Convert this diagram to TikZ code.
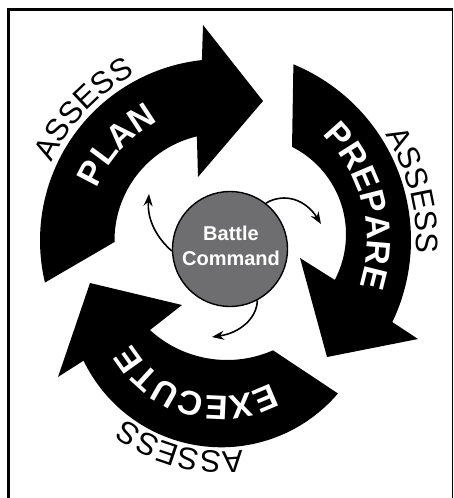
\documentclass[tikz,border=0pt]{standalone}
\usepackage{fontspec}
\setmainfont{Liberation Sans}
\usetikzlibrary{calc,arrows.meta,decorations.text}
\definecolor{circlegray}{RGB}{110,110,112}
\newcommand\bandfont{\fontsize{34}{34}\selectfont\bfseries}
\newcommand\assessfont{\fontsize{31}{31}\selectfont}
\tikzset{
  bandarrow/.style={fill=black},
  smallarrow/.style={line width=1.6pt,-{Stealth[length=12pt,width=9pt]}},
  bandtext/.style={decorate,decoration={text along path,text align=center,text color=white,text={|\bandfont|#1}}},
  assesstext/.style={decorate,decoration={text along path,text align=center,text color=black,text={|\assessfont|#1}}}
}
\begin{document}
\begin{tikzpicture}[x=1pt,y=1pt]
\useasboundingbox (0,0) rectangle (453,-498);
% frame
\draw[line width=2.5pt] (8.5,-498) -- (8.5,-9.5) -- (453,-9.5);
\draw[line width=1pt] (452,-9.5) -- (452,-498);
% centres
\coordinate (Cp) at (221.5,-240.5);
\coordinate (Co) at (221,-240);
\coordinate (Ci) at (248,-234.4);
\coordinate (Eo) at (221.4,-294.3);
\coordinate (Ei) at (227,-246);
% PLAN arrow
\fill[bandarrow] ($(Cp)+(193.4:181.5)$) arc[start angle=193.4,end angle=96.2,radius=181.5]
  -- (203,-25) -- (263,-101) -- (198,-177)
  -- ($(Cp)+(103.3:107)$) arc[start angle=103.3,end angle=180.8,radius=107] -- cycle;
% PREPARE arrow
\fill[bandarrow] ($(Co)+(67.6:190)$) arc[start angle=67.6,end angle=-25.6,radius=190]
  -- (418,-339) -- (327,-357) -- (300,-258)
  -- ($(Ci)+(-27.7:98)$) arc[start angle=-27.7,end angle=63.3,radius=98] -- cycle;
% EXECUTE arrow
\fill[bandarrow] ($(Eo)+(-40.4:153)$) arc[start angle=-40.4,end angle=-154.3,radius=153]
  -- (58,-377) -- (90,-283) -- (182,-305)
  -- ($(Ei)+(-132.5:114)$) arc[start angle=-132.5,end angle=-66.2,radius=114] -- cycle;
% band texts
\path[bandtext=PLAN] ($(Cp)+(177.6:135)$) arc[start angle=177.6,end angle=97.6,radius=135];
\path[bandtext=PREPARE] ($(Co)+(71.3:146)$) arc[start angle=71.3,end angle=-43.7,radius=146];
\path[bandtext=EXECUTE] ($(Eo)+(-40.8:102)$) arc[start angle=-40.8,end angle=-170.8,radius=102];
% assess texts
\path[assesstext=ASSESS] ($(Cp)+(176.5:187)$) arc[start angle=176.5,end angle=96.5,radius=187];
\path[assesstext=ASSESS] ($(Co)+(54.4:195)$) arc[start angle=54.4,end angle=-25.6,radius=195];
\path[assesstext=ASSESS] ($(Eo)+(-65:157)$) arc[start angle=-65,end angle=-145,radius=157];
% centre circle
\node[circle,draw,line width=1.4pt,fill=circlegray,minimum size=115pt,inner sep=0pt] (bc) at (230,-249) {};
\node[text=white,font=\fontsize{20}{25}\selectfont\bfseries,align=center,inner sep=0pt] (bct) at (231,-246) {Battle\\Command};
% small arrows
\coordinate (t1) at (149,-194);
\coordinate (t2) at (321,-224);
\coordinate (t3) at (212,-337);
\draw[smallarrow] (bc.182) .. controls (157,-238) and (147,-220) .. (t1);
\draw[smallarrow] (bc.52) .. controls (285,-192) and (306,-200) .. (t2);
\draw[smallarrow] (bc.-62) .. controls (257,-318) and (240,-333) .. (t3);
\end{tikzpicture}
\end{document}
